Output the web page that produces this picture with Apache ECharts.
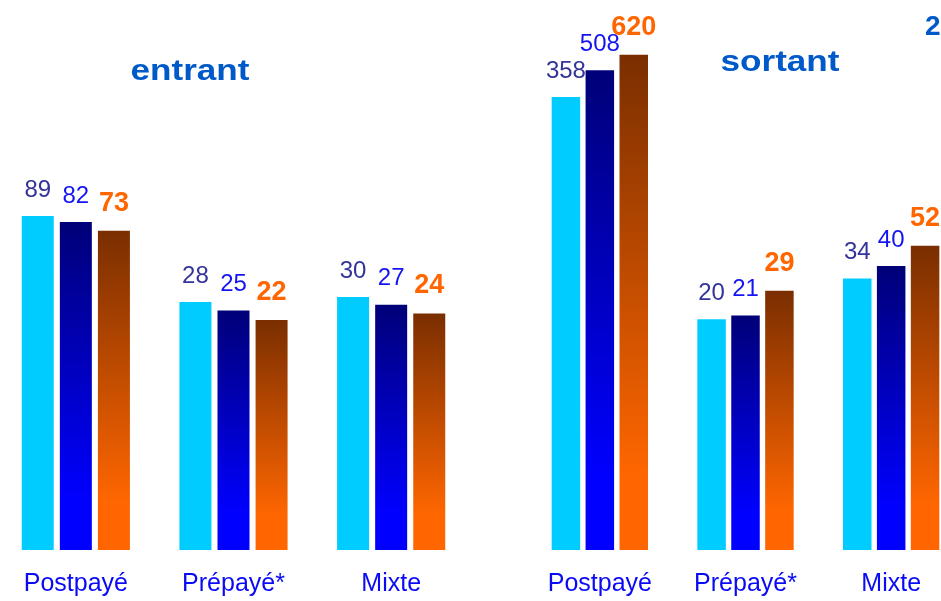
<!DOCTYPE html>
<html>
<head>
<meta charset="utf-8">
<script src="https://cdn.jsdelivr.net/npm/echarts@6/dist/echarts.min.js"></script>
<style>
html,body{margin:0;padding:0;background:#fff;overflow:hidden;}
#chart{width:941px;height:601px;}
</style>
</head>
<body>
<div id="chart"></div>
<script>
// ---- data ----
const categories = ['Postpayé', 'Prépayé*', 'Mixte'];
const entrantA = [89, 28, 30];
const entrantB = [82, 25, 27];
const entrantC = [73, 22, 24];
const sortantA = [358, 20, 34];
const sortantB = [508, 21, 40];
const sortantC = [620, 29, 52];
const panelTitles = ['entrant', 'sortant'];

const FONT = '"Liberation Sans", Arial, sans-serif';
const cyan = '#00CCFF';
const blueGrad = {type:'linear', x:0, y:0, x2:0, y2:1, colorStops:[
  {offset:0, color:'#000078'}, {offset:0.85, color:'#0000FF'}, {offset:1, color:'#0000FF'}]};
const orangeGrad = {type:'linear', x:0, y:0, x2:0, y2:1, colorStops:[
  {offset:0, color:'#7A2E00'}, {offset:0.85, color:'#FF6600'}, {offset:1, color:'#FF6600'}]};

const labelStyles = [
  {color:'#333399', fontSize:24, fontWeight:'normal'},
  {color:'#1414F2', fontSize:24, fontWeight:'normal'},
  {color:'#FF6600', fontSize:27, fontWeight:'bold'}
];
const colors = [cyan, blueGrad, orangeGrad];

function mkSeries(data, idx, gi, bw) {
  return {
    type:'bar', data:data, xAxisIndex:gi, yAxisIndex:gi,
    barWidth:bw, barGap:'19%',
    itemStyle:{color:colors[idx]},
    label:{show:true, position:'top', distance:14, fontFamily:FONT,
      color:labelStyles[idx].color, fontSize:labelStyles[idx].fontSize,
      fontWeight:labelStyles[idx].fontWeight},
    emphasis:{disabled:true}, animation:false
  };
}

function mkXAxis(gi) {
  return {
    type:'category', gridIndex:gi, data:categories,
    axisLine:{show:false}, axisTick:{show:false}, splitLine:{show:false},
    axisLabel:{color:'#0A0AF5', fontSize:25, fontFamily:FONT, margin:22, interval:0}
  };
}
function mkYAxis(gi) {
  return {type:'log', logBase:10, gridIndex:gi, min:1, max:1000, show:false,
    splitLine:{show:false}};
}

const chart = echarts.init(document.getElementById('chart'));
chart.setOption({
  backgroundColor:'#ffffff',
  animation:false,
  grid:[
    {left:-3, top:36, width:473, height:514, containLabel:false, outerBoundsMode:'none'},
    {left:527, top:18, width:437, height:532, containLabel:false, outerBoundsMode:'none'}
  ],
  xAxis:[mkXAxis(0), mkXAxis(1)],
  yAxis:[mkYAxis(0), mkYAxis(1)],
  series:[
    mkSeries(entrantA, 0, 0, 32), mkSeries(entrantB, 1, 0, 32), mkSeries(entrantC, 2, 0, 32),
    mkSeries(sortantA, 0, 1, 28.5), mkSeries(sortantB, 1, 1, 28.5), mkSeries(sortantC, 2, 1, 28.5)
  ],
  graphic:[
    {type:'text', x:190, y:72, scaleX:1.17, style:{text:panelTitles[0], font:'bold 30px ' + FONT,
      fill:'#0059C9', textAlign:'center', textVerticalAlign:'middle'}},
    {type:'text', x:780, y:63, scaleX:1.17, style:{text:panelTitles[1], font:'bold 30px ' + FONT,
      fill:'#0059C9', textAlign:'center', textVerticalAlign:'middle'}},
    {type:'text', x:925, y:27, style:{text:'2', font:'bold 28px ' + FONT,
      fill:'#0059C9', textAlign:'left', textVerticalAlign:'middle'}}
  ]
});
</script>
</body>
</html>
